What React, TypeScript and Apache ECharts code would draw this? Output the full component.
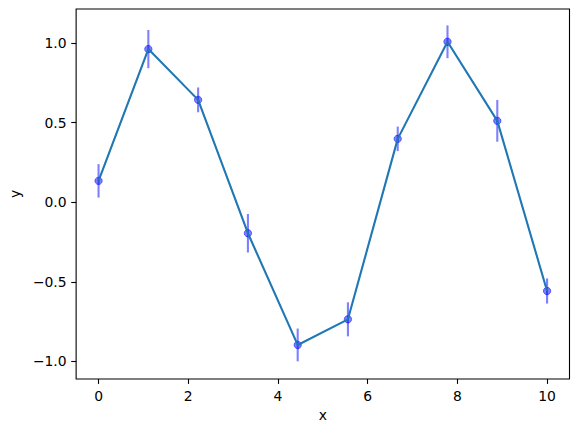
import React, { useEffect, useRef } from "react";
import * as echarts from "echarts";

const xValues = [0, 1.11, 2.22, 3.33, 4.44, 5.56, 6.67, 7.78, 8.89, 10];
const yValues = [0.134, 0.962, 0.643, -0.195, -0.897, -0.736, 0.398, 1.008, 0.511, -0.558];
const yErrors = [0.105, 0.12, 0.078, 0.121, 0.103, 0.107, 0.077, 0.103, 0.131, 0.079];
const xTicks = [0, 2, 4, 6, 8, 10];
const yTicks = [-1, -0.5, 0, 0.5, 1];

const FONT = "DejaVu Sans";

function fmtY(v: number): string {
  const s = Math.abs(v).toFixed(1);
  return v < 0 ? "\u2212" + s : s;
}

export default function App() {
  const ref = useRef<HTMLDivElement>(null);
  useEffect(() => {
    if (!ref.current) return;
    const chart = echarts.init(ref.current, null, { renderer: "svg" });
    const points = xValues.map((x, i) => [x, yValues[i]]);
    const errData = xValues.map((x, i) => [x, yValues[i] - yErrors[i], yValues[i] + yErrors[i]]);
    chart.setOption({
      animation: false,
      backgroundColor: "#ffffff",
      grid: {
        left: 73,
        right: 8.5,
        top: 9,
        bottom: 53,
        show: true,
        borderColor: "#000000",
        borderWidth: 1.1,
        backgroundColor: "transparent",
      },
      xAxis: {
        type: "value",
        min: -0.5,
        max: 10.5,
        name: "x",
        nameLocation: "middle",
        nameGap: 29,
        nameTextStyle: { fontFamily: FONT, fontSize: 13.9, color: "#000" },
        splitLine: { show: false },
        axisLine: { show: false, onZero: false },
        axisTick: {
          show: true,
          inside: false,
          length: 4.9,
          lineStyle: { color: "#000", width: 1.1 },
          customValues: xTicks,
        },
        axisLabel: {
          fontFamily: FONT,
          fontSize: 13.9,
          color: "#000",
          margin: 9.5,
          customValues: xTicks,
          formatter: (v: number) => String(v),
        },
      },
      yAxis: {
        type: "value",
        min: -1.111,
        max: 1.214,
        name: "y",
        nameLocation: "middle",
        nameGap: 50,
        nameTextStyle: { fontFamily: FONT, fontSize: 13.9, color: "#000" },
        splitLine: { show: false },
        axisLine: { show: false, onZero: false },
        axisTick: {
          show: true,
          inside: false,
          length: 4.9,
          lineStyle: { color: "#000", width: 1.1 },
          customValues: yTicks,
        },
        axisLabel: {
          fontFamily: FONT,
          fontSize: 13.9,
          color: "#000",
          margin: 9.5,
          customValues: yTicks,
          formatter: (v: number) => fmtY(v),
        },
      },
      series: [
        {
          type: "custom",
          data: errData,
          z: 2,
          renderItem: (params: any, api: any) => {
            const x = api.value(0);
            const p1 = api.coord([x, api.value(1)]);
            const p2 = api.coord([x, api.value(2)]);
            return {
              type: "line",
              shape: { x1: p1[0], y1: p1[1], x2: p2[0], y2: p2[1] },
              style: { stroke: "rgba(0,0,255,0.5)", lineWidth: 2.1 },
            };
          },
        },
        {
          type: "scatter",
          data: points,
          z: 3,
          symbol: "circle",
          symbolSize: 7.4,
          itemStyle: {
            color: "rgba(0,0,255,0.5)",
            borderColor: "rgba(0,0,255,0.5)",
            borderWidth: 1,
            opacity: 1,
          },
        },
        {
          type: "line",
          data: points,
          z: 4,
          showSymbol: false,
          symbol: "none",
          lineStyle: { color: "#1f77b4", width: 2.1 },
        },
      ],
    });
    return () => chart.dispose();
  }, []);
  return (
    <div
      ref={ref}
      style={{ position: "fixed", left: 0, top: 0, width: 578, height: 432, background: "#fff" }}
    />
  );
}
